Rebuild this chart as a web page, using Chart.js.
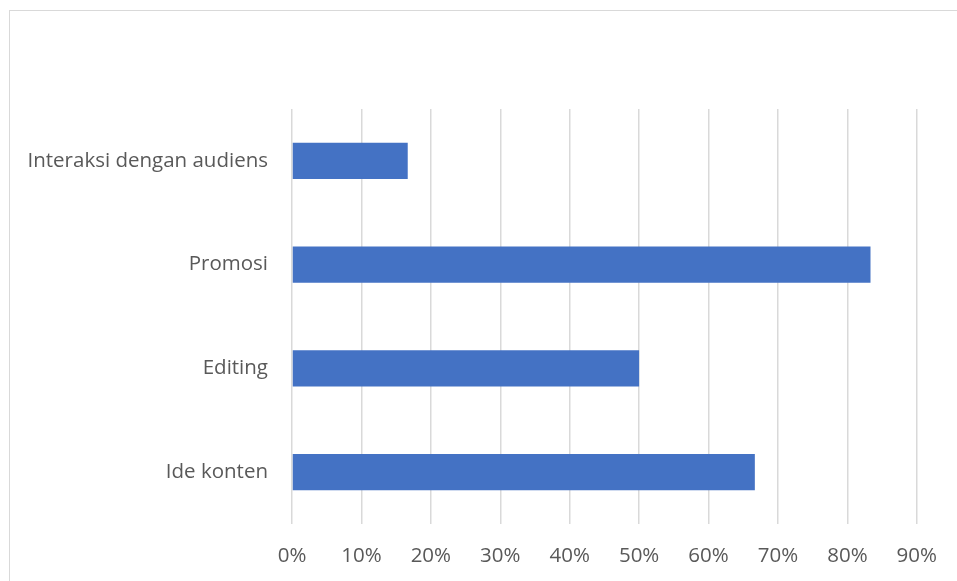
<!DOCTYPE html>
<html>
<head>
<meta charset="utf-8">
<script src="https://cdn.jsdelivr.net/npm/chart.js@4/dist/chart.umd.min.js"></script>
<style>
  html, body { margin: 0; padding: 0; background: #fff; overflow: hidden; }
  #wrap { position: relative; width: 957px; height: 581px; }
  #frame {
    position: absolute; left: 9px; top: 10px; width: 1200px; height: 900px;
    border-top: 1px solid #d9d9d9; border-left: 1px solid #d9d9d9;
    box-sizing: border-box; pointer-events: none;
  }
  canvas { position: absolute; left: 0; top: 0; }
</style>
</head>
<body>
<div id="wrap">
  <div id="frame"></div>
  <canvas id="chart" width="957" height="581"></canvas>
</div>
<script>
// Survey topics and the share of respondents choosing each (in percent)
const categories = ['Interaksi dengan audiens', 'Promosi', 'Editing', 'Ide konten'];
const shares = [16.67, 83.33, 50, 66.67];
const axisMax = 90;
const axisStep = 10;

const FONT = { family: '"Open Sans", sans-serif', size: 20.5 };
const TEXT_COLOR = '#595959';

new Chart(document.getElementById('chart'), {
  type: 'bar',
  data: {
    labels: categories,
    datasets: [{
      data: shares,
      backgroundColor: '#4472C4',
      borderWidth: 0,
      categoryPercentage: 1,
      barPercentage: 0.347
    }]
  },
  options: {
    indexAxis: 'y',
    responsive: false,
    animation: false,
    layout: { padding: { top: 109, right: 39, left: 0, bottom: 0 } },
    plugins: { legend: { display: false }, tooltip: { enabled: false } },
    scales: {
      x: {
        min: 0,
        max: axisMax,
        ticks: {
          stepSize: axisStep,
          padding: 20,
          color: TEXT_COLOR,
          font: FONT,
          callback: v => v + '%'
        },
        grid: { color: '#d9d9d9', lineWidth: 1.5, drawTicks: false },
        border: { display: false },
        afterFit: s => { s.height = 57; }
      },
      y: {
        ticks: { padding: 24, color: TEXT_COLOR, font: FONT },
        grid: { display: false, drawTicks: false },
        border: { display: false },
        afterFit: s => { s.width = 292; }
      }
    }
  }
});
</script>
</body>
</html>
